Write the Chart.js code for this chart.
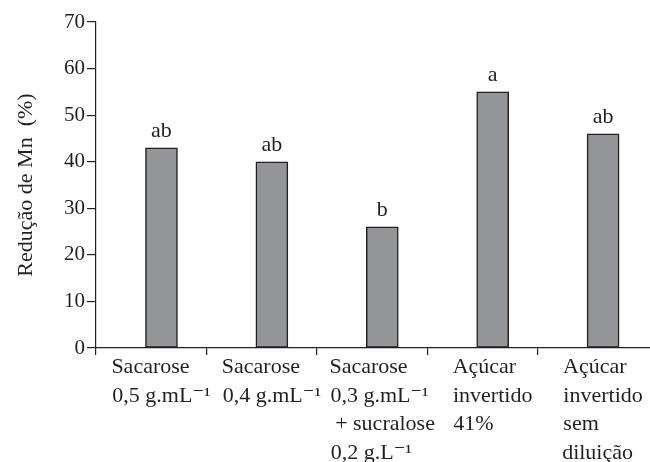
<!DOCTYPE html>
<html>
<head>
<meta charset="utf-8">
<script src="https://cdn.jsdelivr.net/npm/chart.js@4"></script>
<style>
  html, body { margin: 0; padding: 0; background: #fff; }
  canvas { display: block; }
</style>
</head>
<body>
<canvas id="c" width="650" height="462"></canvas>
<script>
// ---- data ----
const categories = [
  ["Sacarose", "0,5 g.mL\u207B\u00B9"],
  ["Sacarose", "0,4 g.mL\u207B\u00B9"],
  ["Sacarose", "0,3 g.mL\u207B\u00B9", " + sucralose", "0,2 g.L\u207B\u00B9"],
  ["Açúcar", "invertido", "41%"],
  ["Açúcar", "invertido", "sem", "diluição"]
];
const values = [43, 40, 26, 55, 46];
const letters = ["ab", "ab", "b", "a", "ab"];
const yTicks = [0, 10, 20, 30, 40, 50, 60, 70];
const yTitle = "Redução de Mn  (%)";

// ---- styling ----
const FAMILY = "'Liberation Serif', 'DejaVu Serif', serif";
const INK = "#231f20";
const X_MIN = -0.593, X_MAX = 4.425;
const xFont = { family: FAMILY, size: 22, lineHeight: 1.3 };

const mctx = document.createElement('canvas').getContext('2d');
function leftAlign(lines) {
  mctx.font = xFont.size + "px " + FAMILY;
  const w = lines.map(l => mctx.measureText(l).width);
  const max = Math.max(...w);
  const sp = mctx.measureText(' ').width;
  return lines.map((l, i) => l + ' '.repeat(Math.round((max - w[i]) / sp)));
}

const letterPlugin = {
  id: 'letters',
  afterDatasetsDraw(chart) {
    const ctx = chart.ctx;
    const meta = chart.getDatasetMeta(0);
    ctx.save();
    ctx.font = "22px " + FAMILY;
    ctx.fillStyle = INK;
    ctx.textAlign = 'center';
    ctx.textBaseline = 'alphabetic';
    meta.data.forEach((bar, i) => {
      ctx.fillText(letters[i], bar.x, bar.y - 11);
    });
    ctx.restore();
  }
};

new Chart(document.getElementById('c'), {
  type: 'bar',
  data: {
    datasets: [{
      data: values.map((v, i) => ({ x: i, y: v })),
      backgroundColor: '#939598',
      borderColor: INK,
      borderWidth: 1.5,
      borderSkipped: false,
      barThickness: 32
    }]
  },
  options: {
    responsive: false,
    animation: false,
    layout: { padding: { top: 22, right: 0, bottom: 0, left: 0 } },
    plugins: { legend: { display: false }, tooltip: { enabled: false } },
    scales: {
      xt: {
        type: 'linear',
        position: 'bottom',
        weight: 0,
        offset: false,
        min: X_MIN,
        max: X_MAX,
        afterBuildTicks(s) { s.ticks = categories.map((_, k) => ({ value: X_MIN + k })); },
        afterFit(s) { s.height = 0; },
        ticks: { display: false },
        grid: { offset: false, drawOnChartArea: false, drawTicks: true, tickLength: 7, color: INK, lineWidth: 1.2 },
        border: { display: true, color: INK, width: 1.2 }
      },
      x: {
        type: 'linear',
        position: 'bottom',
        weight: 1,
        offset: false,
        min: X_MIN,
        max: X_MAX,
        afterBuildTicks(s) { s.ticks = categories.map((_, k) => ({ value: k })); },
        afterFit(s) { s.height = 114; },
        grid: { display: false, drawTicks: false, offset: false },
        border: { display: false },
        ticks: {
          autoSkip: false,
          maxRotation: 0,
          padding: 5,
          color: INK,
          font: xFont,
          callback: (v) => leftAlign(categories[Math.round(v)])
        }
      },
      y: {
        min: 0,
        max: 70,
        afterBuildTicks(s) { s.ticks = yTicks.map(v => ({ value: v })); },
        afterFit(s) { s.width = 96; },
        grid: { drawOnChartArea: false, drawTicks: true, tickLength: 9, color: INK, lineWidth: 1.2 },
        border: { display: true, color: INK, width: 1.2 },
        ticks: { padding: 2, color: INK, font: { family: FAMILY, size: 21 } },
        title: {
          display: true,
          text: yTitle,
          color: INK,
          font: { family: FAMILY, size: 22 },
          padding: { top: 13, bottom: 0 }
        }
      }
    }
  },
  plugins: [letterPlugin]
});
</script>
</body>
</html>
